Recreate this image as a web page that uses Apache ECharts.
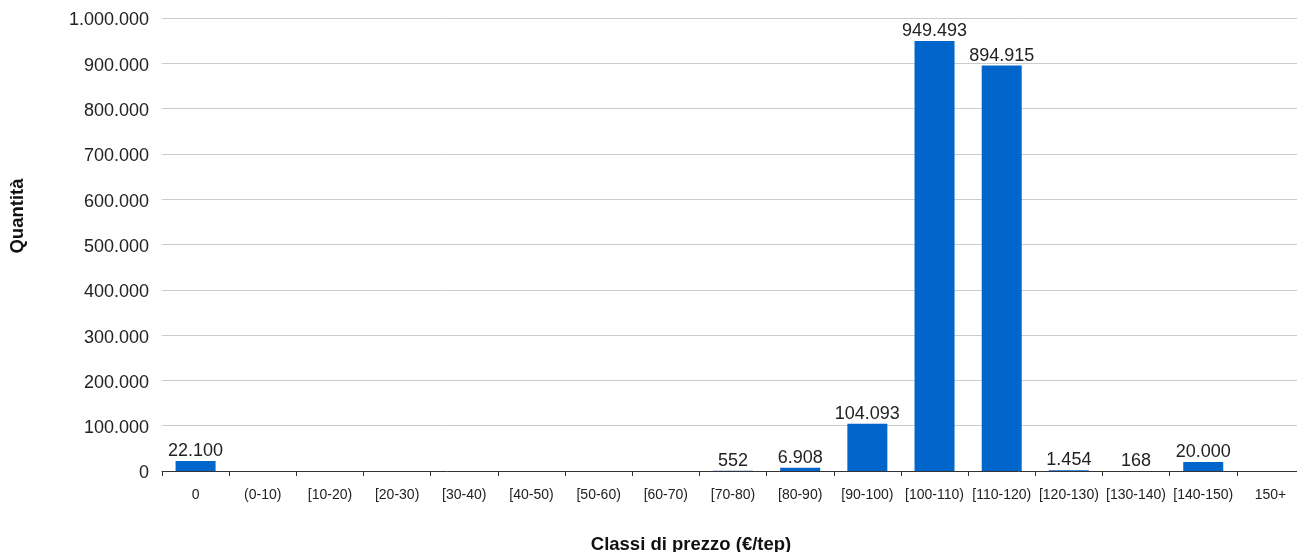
<!DOCTYPE html>
<html>
<head>
<meta charset="utf-8">
<script src="https://cdn.jsdelivr.net/npm/echarts@6/dist/echarts.min.js"></script>
<style>
  html, body { margin: 0; padding: 0; background: #fff; overflow: hidden; }
  /* the plot area runs a few pixels past the right edge of the page */
  #chart { width: 1304px; height: 552px; }
</style>
</head>
<body>
<div id="chart"></div>
<script>
// Price classes (€/tep) and traded quantities
const categories = ['0', '(0-10)', '[10-20)', '[20-30)', '[30-40)', '[40-50)', '[50-60)', '[60-70)',
  '[70-80)', '[80-90)', '[90-100)', '[100-110)', '[110-120)', '[120-130)', '[130-140)', '[140-150)', '150+'];
const quantities = [22100, 0, 0, 0, 0, 0, 0, 0, 552, 6908, 104093, 949493, 894915, 1454, 168, 20000, 0];
const yTicks = { min: 0, max: 1000000, interval: 100000 };
const xTitle = 'Classi di prezzo (€/tep)';
const yTitle = 'Quantità';

// Italian thousands separator
function fmt(v) {
  return String(Math.round(v)).replace(/\B(?=(\d{3})+(?!\d))/g, '.');
}

const FONT = '"Liberation Sans", Arial, Helvetica, sans-serif';
const chart = echarts.init(document.getElementById('chart'), null, { renderer: 'canvas' });

chart.setOption({
  animation: false,
  backgroundColor: '#ffffff',
  textStyle: { fontFamily: FONT },
  grid: { left: 162, right: 0, top: 18, bottom: 81, containLabel: false },
  xAxis: {
    type: 'category',
    data: categories,
    boundaryGap: true,
    axisLine: { show: true, lineStyle: { color: '#333333', width: 1 } },
    axisTick: { show: true, length: 5, lineStyle: { color: '#333333' } },
    axisLabel: { fontSize: 14, color: '#222222', margin: 17, interval: 0, fontFamily: FONT },
    splitLine: { show: false }
  },
  yAxis: {
    type: 'value',
    min: yTicks.min,
    max: yTicks.max,
    interval: yTicks.interval,
    axisLine: { show: false },
    axisTick: { show: false },
    axisLabel: {
      color: '#222222', margin: 13, fontFamily: FONT,
      formatter: v => '{v|' + fmt(v) + '}',
      rich: { v: { fontSize: 18, color: '#222222', fontFamily: FONT, padding: [5, 0, 0, 0] } }
    },
    splitLine: { show: true, lineStyle: { color: '#cccccc', width: 1 } }
  },
  series: [{
    type: 'bar',
    data: quantities,
    barWidth: 40,
    itemStyle: { color: '#0066cc' },
    label: {
      show: true,
      position: 'top',
      distance: 1,
      fontSize: 18,
      color: '#222222',
      fontFamily: FONT,
      formatter: p => (p.value ? fmt(p.value) : '')
    }
  }],
  graphic: [
    {
      type: 'text',
      x: 691, y: 545,
      style: {
        text: xTitle, font: 'bold 18.5px ' + FONT, fill: '#111111',
        textAlign: 'center', textVerticalAlign: 'middle'
      }
    },
    {
      type: 'text',
      x: 18, y: 216, rotation: Math.PI / 2,
      style: {
        text: yTitle, font: 'bold 18.5px ' + FONT, fill: '#111111',
        textAlign: 'center', textVerticalAlign: 'middle'
      }
    }
  ]
});
</script>
</body>
</html>
